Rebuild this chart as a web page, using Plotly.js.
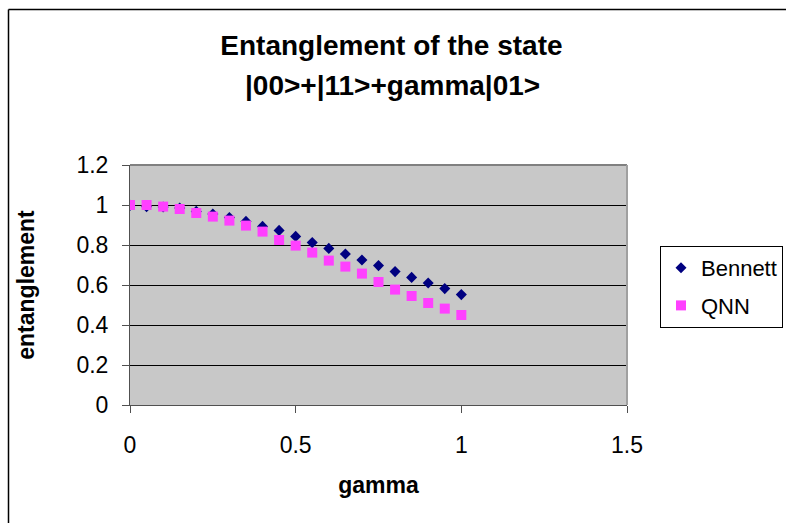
<!DOCTYPE html>
<html>
<head>
<meta charset="utf-8">
<script src="https://cdn.plot.ly/plotly-3.0.1.min.js"></script>
<style>html,body{margin:0;padding:0;background:#fff;}#chart{width:786px;height:523px;}</style>
</head>
<body>
<div id="chart"></div>
<script>
var gamma = [0, 0.05, 0.1, 0.15, 0.2, 0.25, 0.3, 0.35, 0.4, 0.45, 0.5, 0.55, 0.6, 0.65, 0.7, 0.75, 0.8, 0.85, 0.9, 0.95, 1.0];
var bennett = [0.998, 0.992, 0.99, 0.985, 0.968, 0.955, 0.937, 0.918, 0.893, 0.873, 0.843, 0.812, 0.783, 0.755, 0.725, 0.697, 0.667, 0.638, 0.61, 0.582, 0.552];
var qnn = [1.0, 1.0, 0.992, 0.98, 0.96, 0.942, 0.922, 0.897, 0.867, 0.825, 0.797, 0.762, 0.722, 0.692, 0.657, 0.615, 0.577, 0.545, 0.51, 0.482, 0.45];
var seriesNames = ['Bennett', 'QNN'];
var titleLine1 = 'Entanglement of the state';
var titleLine2 = '|00&gt;+|11&gt;+gamma|01&gt;';
var xTitle = 'gamma';
var yTitle = 'entanglement';

var FONT = 'Liberation Sans, Arial, sans-serif';
var L = 130, R = 159, T = 165, B = 118, W = 786, H = 523;
var pw = W - L - R, ph = H - T - B;
function px(x) { return (x - L) / pw; }
function py(y) { return (H - B - y) / ph; }

var traces = [
  {x: gamma, y: bennett, name: seriesNames[0], type: 'scatter', mode: 'markers', legendgroup: 'a',
   marker: {symbol: 'diamond', size: 8.5, color: '#000080'}},
  {x: gamma, y: qnn, name: seriesNames[1], type: 'scatter', mode: 'markers', legendgroup: 'b',
   marker: {symbol: 'square', size: 10, color: '#ff40ff'}}
];

var layout = {
  width: W, height: H, autosize: false,
  margin: {l: L, r: R, t: T, b: B, pad: 0, autoexpand: false},
  paper_bgcolor: '#ffffff', plot_bgcolor: '#c8c8c8',
  font: {family: FONT, color: '#000000'},
  title: {text: titleLine1, font: {family: FONT, size: 28, weight: 'bold', color: '#000'},
          x: 0.498, xref: 'container', xanchor: 'center', y: 1 - 45 / H, yref: 'container', yanchor: 'middle'},
  showlegend: true,
  legend: {x: px(660), xanchor: 'left', y: py(246), yanchor: 'top', bgcolor: '#ffffff',
           bordercolor: '#000000', borderwidth: 1, font: {family: FONT, size: 22, color: '#000'},
           traceorder: 'grouped', tracegroupgap: 6},
  xaxis: {range: [0, 1.5], dtick: 0.5, tick0: 0, showgrid: false, zeroline: false,
          showline: true, linecolor: '#505050', linewidth: 1,
          ticks: 'outside', ticklen: 7, tickcolor: '#505050', ticklabelstandoff: 12,
          tickfont: {family: FONT, size: 23, color: '#000'},
          title: {text: xTitle, font: {family: FONT, size: 23, weight: 'bold', color: '#000'}, standoff: 20},
          fixedrange: true},
  yaxis: {range: [0, 1.2], dtick: 0.2, tick0: 0, showgrid: true, gridcolor: '#000000', gridwidth: 1,
          zeroline: false, showline: true, linecolor: '#505050', linewidth: 1,
          ticks: 'outside', ticklen: 7, tickcolor: '#505050', ticklabelstandoff: 9,
          tickfont: {family: FONT, size: 23, color: '#000'},
          title: {text: yTitle, font: {family: FONT, size: 23, weight: 'bold', color: '#000'}, standoff: 35},
          fixedrange: true},
  annotations: [
    {text: titleLine2, xref: 'paper', yref: 'paper', x: px(392), y: py(85), xanchor: 'center', yanchor: 'middle',
     showarrow: false, font: {family: FONT, size: 28, weight: 'bold', color: '#000'}}
  ],
  shapes: [
    {type: 'line', xref: 'paper', yref: 'paper', x0: 0, x1: 1, y0: 1, y1: 1, line: {color: '#808080', width: 2}, layer: 'above'},
    {type: 'line', xref: 'paper', yref: 'paper', x0: 1, x1: 1, y0: 0, y1: 1, line: {color: '#a0a0a0', width: 2}, layer: 'above'},
    {type: 'line', xref: 'paper', yref: 'paper', x0: px(8.5), x1: px(8.5), y0: py(9.5), y1: py(540), line: {color: '#000', width: 1.5}},
    {type: 'line', xref: 'paper', yref: 'paper', x0: px(8.5), x1: px(800), y0: py(9.5), y1: py(9.5), line: {color: '#000', width: 1.5}}
  ]
};

Plotly.newPlot('chart', traces, layout, {displayModeBar: false, staticPlot: true});
</script>
</body>
</html>
